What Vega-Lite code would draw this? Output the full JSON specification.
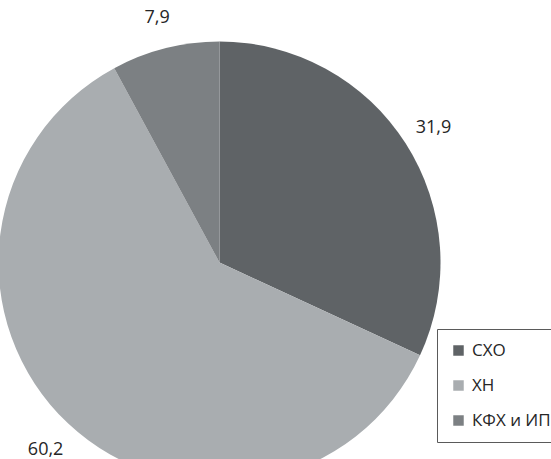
{
  "$schema": "https://vega.github.io/schema/vega-lite/v6.json",
  "width": 439,
  "height": 525,
  "autosize": {"type": "none"},
  "padding": {"left": 0, "top": 0, "right": 112, "bottom": 0},
  "background": "white",
  "config": {"view": {"stroke": null}},
  "data": {
    "values": [
      {"cat": "СХО", "value": 31.9, "label": "31,9", "ord": 1},
      {"cat": "ХН", "value": 60.2, "label": "60,2", "ord": 2},
      {"cat": "КФХ и ИП", "value": 7.9, "label": "7,9", "ord": 3}
    ]
  },
  "encoding": {
    "theta": {"field": "value", "type": "quantitative", "stack": true},
    "order": {"field": "ord", "type": "quantitative"}
  },
  "layer": [
    {
      "mark": {"type": "arc", "outerRadius": 221},
      "encoding": {
        "color": {
          "field": "cat",
          "type": "nominal",
          "sort": ["СХО", "ХН", "КФХ и ИП"],
          "scale": {"domain": ["СХО", "ХН", "КФХ и ИП"], "range": ["#5f6366", "#a9adb0", "#7c8083"]},
          "legend": {
            "title": null,
            "orient": "none",
            "legendX": 437,
            "legendY": 329,
            "padding": 13,
            "strokeColor": "#5a5a5a",
            "fillColor": "white",
            "symbolType": "square",
            "symbolSize": 110,
            "symbolStrokeWidth": 0,
            "labelFont": "Open Sans",
            "labelFontSize": 17,
            "labelColor": "#262626",
            "rowPadding": 17,
            "labelOffset": 5
          }
        }
      }
    },
    {
      "mark": {"type": "text", "radius": 254, "dy": 2, "fontSize": 18, "font": "Open Sans", "color": "#262626", "align": "center", "baseline": "middle"},
      "encoding": {"text": {"field": "label", "type": "nominal"}}
    }
  ]
}
